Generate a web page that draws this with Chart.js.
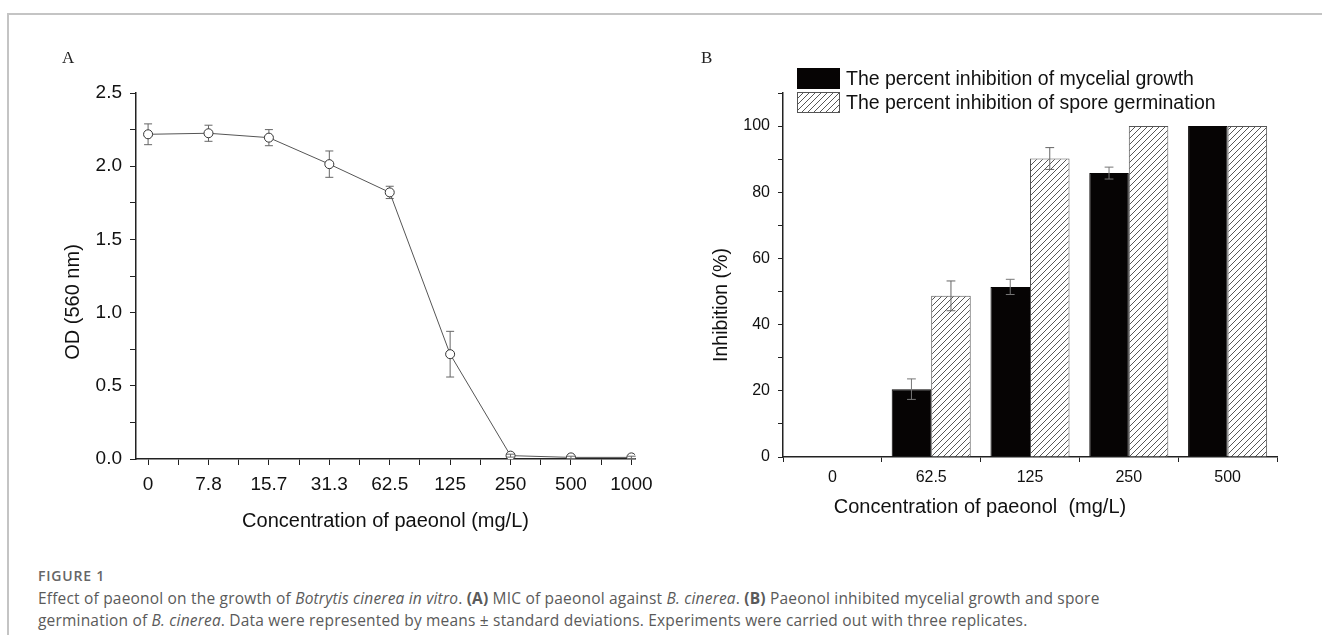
<!DOCTYPE html>
<html>
<head>
<meta charset="utf-8">
<script src="https://cdn.jsdelivr.net/npm/chart.js@4.4.1/dist/chart.umd.min.js"></script>
<style>
  body { margin: 0; background: #fff; width: 1322px; height: 635px; overflow: hidden; position: relative; }
  .frame { position: absolute; left: 7px; top: 13px; right: -10px; bottom: -10px; border-left: 2px solid #c4c4c4; border-top: 2px solid #c4c4c4; }
  canvas { position: absolute; top: 0; }
  .panel { position: absolute; font-family: "Liberation Serif", serif; font-size: 17px; color: #222; }
  .fig { position: absolute; left: 38px; top: 566px; font-family: "Open Sans", sans-serif; font-size: 14px; font-weight: 600; color: #666; letter-spacing: 0.8px; }
  .cap { position: absolute; left: 38px; top: 587px; font-family: "Open Sans", sans-serif; font-size: 15.5px; line-height: 22px; color: #5a5a5a; white-space: nowrap; }
</style>
</head>
<body>
<div class="frame"></div>
<canvas id="chartA" width="680" height="545" style="left:0;width:680px;height:545px"></canvas>
<canvas id="chartB" width="642" height="545" style="left:680px;width:642px;height:545px"></canvas>
<div class="panel" style="left:62px;top:48px">A</div>
<div class="panel" style="left:701px;top:48px">B</div>
<div class="fig">FIGURE 1</div>
<div class="cap"><span id="line1">Effect of paeonol on the growth of <i>Botrytis cinerea in vitro</i>. <b>(A)</b> MIC of paeonol against <i>B. cinerea</i>. <b>(B)</b> Paeonol inhibited mycelial growth and spore</span><br>germination of <i>B. cinerea</i>. Data were represented by means ± standard deviations. Experiments were carried out with three replicates.</div>

<script>
// panel A - MIC
const concA = ["0", "7.8", "15.7", "31.3", "62.5", "125", "250", "500", "1000"];
const odValues = [2.218, 2.225, 2.195, 2.014, 1.821, 0.716, 0.023, 0.011, 0.011];
const odErr = [0.071, 0.055, 0.055, 0.09, 0.042, 0.156, 0.01, 0.008, 0.008];

// panel B - inhibition
const concB = ["0", "62.5", "125", "250", "500"];
const mycelial = [0, 20.5, 51.4, 85.8, 100];
const mycelialErr = [0, 3.1, 2.3, 1.8, 0];
const spore = [0, 48.7, 90.2, 100, 100];
const sporeErr = [0, 4.5, 3.3, 0, 0];

const FONT = "'Liberation Sans', Arial, sans-serif";
const INK = "#111";

// stretch caption spacing so the first line runs as wide as in the figure
const line1 = document.getElementById("line1");
const cap = document.querySelector(".cap");
const gap = (1062 - line1.getBoundingClientRect().width) / line1.textContent.length;
cap.style.letterSpacing = gap.toFixed(2) + "px";

// diagonal hatch fill
function hatch() {
  const s = 6;
  const c = document.createElement("canvas");
  c.width = s; c.height = s;
  const g = c.getContext("2d");
  g.fillStyle = "#fff";
  g.fillRect(0, 0, s, s);
  g.strokeStyle = "#444";
  g.lineWidth = 0.9;
  g.beginPath();
  g.moveTo(0, s); g.lineTo(s, 0);
  g.moveTo(-1, 1); g.lineTo(1, -1);
  g.moveTo(s - 1, s + 1); g.lineTo(s + 1, s - 1);
  g.stroke();
  return g.createPattern(c, "repeat");
}

function drawErr(chart, ds, i, j, cap) {
  const ctx = chart.ctx;
  const y = chart.scales.y;
  const el = chart.getDatasetMeta(i).data[j];
  const v = typeof ds.data[j] === "object" ? ds.data[j].y : ds.data[j];
  const e = ds.errors[j];
  const t = y.getPixelForValue(v + e), b = y.getPixelForValue(v - e);
  ctx.save();
  ctx.strokeStyle = ds.errorColor || "#666";
  ctx.lineWidth = 1;
  ctx.beginPath();
  ctx.moveTo(el.x, t); ctx.lineTo(el.x, b);
  ctx.moveTo(el.x - cap, t); ctx.lineTo(el.x + cap, t);
  ctx.moveTo(el.x - cap, b); ctx.lineTo(el.x + cap, b);
  ctx.stroke();
  ctx.restore();
}

// error bars; in A they sit under the markers unless shorter than the marker
const errorBars = {
  id: "errorBars",
  beforeDatasetsDraw(chart, args, opts) {
    if (!opts.under) return;
    chart.data.datasets.forEach((ds, i) => {
      (ds.errors || []).forEach((e, j) => { if (e) drawErr(chart, ds, i, j, opts.cap); });
    });
  },
  afterDatasetsDraw(chart, args, opts) {
    const y = chart.scales.y;
    chart.data.datasets.forEach((ds, i) => {
      (ds.errors || []).forEach((e, j) => {
        if (!e) return;
        const span = Math.abs(y.getPixelForValue(0) - y.getPixelForValue(e));
        if (!opts.under || span < (ds.pointRadius || 0)) drawErr(chart, ds, i, j, opts.cap);
      });
    });
  }
};

// axis titles that are not centred on their axis in the figure
const looseTitles = {
  id: "looseTitles",
  afterDraw(chart, args, o) {
    const ctx = chart.ctx;
    (o.items || []).forEach((t) => {
      ctx.save();
      ctx.translate(t.x, t.y);
      if (t.vertical) ctx.rotate(-Math.PI / 2);
      ctx.font = t.size + "px " + FONT;
      ctx.fillStyle = INK;
      ctx.textAlign = "center";
      ctx.textBaseline = "middle";
      ctx.fillText(t.text, 0, 0);
      ctx.restore();
    });
  }
};

// legend sitting over the top of plot B
const boxLegend = {
  id: "boxLegend",
  afterDraw(chart) {
    const ctx = chart.ctx;
    const x = 117, w = 43, h = 21, tops = [68, 92];
    ctx.save();
    chart.data.datasets.forEach((ds, i) => {
      ctx.fillStyle = ds.backgroundColor;
      ctx.fillRect(x, tops[i], w, h);
      ctx.strokeStyle = ds.borderColor;
      ctx.lineWidth = 1;
      ctx.strokeRect(x + 0.5, tops[i] + 0.5, w - 1, h - 1);
      ctx.fillStyle = INK;
      ctx.font = "19.5px " + FONT;
      ctx.textBaseline = "middle";
      ctx.fillText(ds.label, x + 49, tops[i] + h / 2 + 1);
    });
    ctx.restore();
  }
};

const tickFont = { family: FONT, size: 19 };
const titleFont = { family: FONT, size: 20 };

new Chart(document.getElementById("chartA"), {
  type: "line",
  data: {
    datasets: [{
      data: odValues.map((v, i) => ({ x: i, y: v })),
      errors: odErr,
      borderColor: "#555",
      borderWidth: 1,
      pointRadius: 4.5,
      pointBackgroundColor: "#fff",
      pointBorderColor: "#333",
      pointBorderWidth: 1,
      tension: 0
    }]
  },
  options: {
    responsive: false,
    animation: false,
    events: [],
    layout: { padding: { left: 57, right: 45, top: 93, bottom: 0 } },
    plugins: {
      legend: { display: false },
      tooltip: { enabled: false },
      errorBars: { under: true, cap: 4 },
      looseTitles: { items: [{ text: "OD (560 nm)", x: 73, y: 302, size: 20, vertical: true }] }
    },
    scales: {
      x: {
        type: "linear",
        min: -0.2,
        max: 8.06,
        afterBuildTicks: (s) => {
          s.ticks = [];
          for (let k = 0; k <= 16; k++) s.ticks.push({ value: k / 2 });
        },
        afterFit: (s) => { s.height = 86; },
        ticks: {
          autoSkip: false,
          maxRotation: 0,
          padding: 8,
          color: INK,
          font: tickFont,
          callback: (v) => Number.isInteger(v) ? concA[v] : ""
        },
        grid: { drawOnChartArea: false, tickLength: 6, color: "#222" },
        border: { color: "#222", width: 1.5 },
        title: { display: true, text: "Concentration of paeonol (mg/L)", color: INK, font: titleFont, padding: { top: 0, bottom: 12 } }
      },
      y: {
        min: 0,
        max: 2.5,
        afterBuildTicks: (s) => {
          s.ticks = [];
          for (let k = 0; k <= 10; k++) s.ticks.push({ value: k / 4 });
        },
        afterFit: (s) => { s.width = 79; },
        ticks: {
          autoSkip: false,
          padding: 8,
          color: INK,
          font: tickFont,
          callback: (v) => (Math.round(v * 4) % 2 === 0) ? v.toFixed(1) : ""
        },
        grid: { drawOnChartArea: false, tickLength: 6, color: "#222" },
        border: { color: "#222", width: 1.5 }
      }
    }
  },
  plugins: [errorBars, looseTitles]
});

new Chart(document.getElementById("chartB"), {
  type: "bar",
  data: {
    labels: concB,
    datasets: [
      {
        label: "The percent inhibition of mycelial growth",
        data: mycelial,
        errors: mycelialErr,
        backgroundColor: "#060404",
        borderColor: "#060404",
        borderWidth: 1,
        errorColor: "#777"
      },
      {
        label: "The percent inhibition of spore germination",
        data: spore,
        errors: sporeErr,
        backgroundColor: hatch(),
        borderColor: "#555",
        borderWidth: 1,
        errorColor: "#666"
      }
    ]
  },
  options: {
    responsive: false,
    animation: false,
    events: [],
    layout: { padding: { left: 26, right: 45, top: 93, bottom: 0 } },
    datasets: { bar: { categoryPercentage: 0.8, barPercentage: 1.0 } },
    plugins: {
      legend: { display: false },
      tooltip: { enabled: false },
      errorBars: { under: false, cap: 4.4 },
      looseTitles: {
        items: [
          { text: "Inhibition (%)", x: 42, y: 305, size: 19.5, vertical: true },
          { text: "Concentration of paeonol  (mg/L)", x: 300, y: 507, size: 20 }
        ]
      }
    },
    scales: {
      x: {
        afterFit: (s) => { s.height = 88; },
        ticks: { padding: 6, color: INK, font: { family: FONT, size: 16 } },
        grid: { drawOnChartArea: false, offset: true, tickLength: 5, color: "#222" },
        border: { color: "#222", width: 1.5 }
      },
      y: {
        min: 0,
        max: 110,
        afterBuildTicks: (s) => {
          s.ticks = [];
          for (let k = 0; k <= 110; k += 10) s.ticks.push({ value: k });
        },
        afterFit: (s) => { s.width = 77; },
        ticks: {
          autoSkip: false,
          padding: 8,
          color: INK,
          font: { family: FONT, size: 16 },
          callback: (v) => (v % 20 === 0 && v <= 100) ? String(v) : ""
        },
        grid: { drawOnChartArea: false, tickLength: 5, color: "#222" },
        border: { color: "#222", width: 1.5 }
      }
    }
  },
  plugins: [errorBars, boxLegend, looseTitles]
});
</script>
</body>
</html>
